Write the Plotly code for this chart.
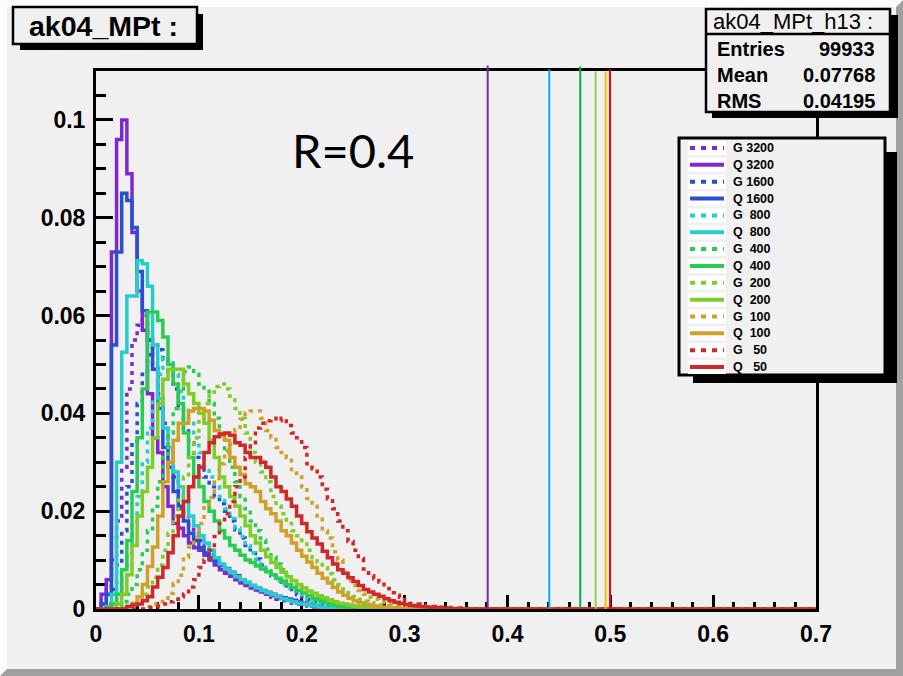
import numpy as np
import plotly.graph_objects as go

# ---------------- data ----------------
BIN_W = 0.005
N_BINS = 140

labels = ["G\u00a03200", "Q\u00a03200", "G\u00a01600", "Q\u00a01600", "G\u00a0\u00a0800", "Q\u00a0\u00a0800",
          "G\u00a0\u00a0400", "Q\u00a0\u00a0400", "G\u00a0\u00a0200", "Q\u00a0\u00a0200", "G\u00a0\u00a0100",
          "Q\u00a0\u00a0100", "G\u00a0\u00a0\u00a050", "Q\u00a0\u00a0\u00a050"]

g3200 = [0, 0.001, 0.004, 0.010, 0.018, 0.029, 0.045, 0.055, 0.058, 0.060,
         0.055, 0.050, 0.044, 0.038, 0.033, 0.027, 0.021, 0.019, 0.017, 0.0155,
         0.014, 0.0125, 0.0112, 0.010, 0.009, 0.008, 0.0071, 0.0063, 0.0056, 0.005,
         0.0044, 0.0038, 0.0033, 0.0028, 0.0024, 0.002, 0.0017, 0.0014, 0.0012, 0.001,
         0.0008, 0.0006, 0.0004, 0.0003, 0.0002, 0.0001]
q3200 = [0, 0.003, 0.006, 0.073, 0.096, 0.100, 0.089, 0.077, 0.065, 0.057,
         0.044, 0.035, 0.032, 0.025, 0.021, 0.0175, 0.0165, 0.015, 0.0135, 0.0125,
         0.012, 0.011, 0.010, 0.009, 0.008, 0.0073, 0.0067, 0.006, 0.0053, 0.0048,
         0.0043, 0.0039, 0.0035, 0.003, 0.0027, 0.0024, 0.0022, 0.002, 0.0018, 0.0015,
         0.0012, 0.0009, 0.0006, 0.0004, 0.0002, 0.0001]
g1600 = [0, 0, 0.001, 0.004, 0.009, 0.016, 0.025, 0.034, 0.042, 0.048,
         0.052, 0.054, 0.053, 0.051, 0.048, 0.045, 0.041, 0.037, 0.034, 0.031,
         0.029, 0.027, 0.025, 0.023, 0.0215, 0.020, 0.018, 0.0162, 0.0145, 0.013,
         0.0115, 0.0102, 0.009, 0.0078, 0.0068, 0.0058, 0.005, 0.0042, 0.0035, 0.0029,
         0.0024, 0.0019, 0.0015, 0.0011, 0.0008, 0.0005, 0.0003, 0.0002, 0.0001]
q1600 = [0, 0.001, 0.003, 0.054, 0.073, 0.085, 0.0835, 0.078, 0.069, 0.061,
         0.055, 0.049, 0.041, 0.033, 0.029, 0.024, 0.0205, 0.018, 0.0155, 0.014,
         0.0125, 0.0115, 0.0105, 0.0097, 0.009, 0.0083, 0.0075, 0.0068, 0.006, 0.0054,
         0.0048, 0.0043, 0.0038, 0.0034, 0.003, 0.0026, 0.0023, 0.002, 0.0016, 0.0013,
         0.001, 0.0008, 0.0006, 0.0004, 0.0003, 0.0002, 0.0001]
g800 = [0, 0, 0, 0.001, 0.003, 0.0065, 0.011, 0.0175, 0.023, 0.030,
        0.037, 0.043, 0.048, 0.0515, 0.051, 0.048, 0.0445, 0.041, 0.038, 0.035,
        0.032, 0.029, 0.027, 0.025, 0.023, 0.0205, 0.0185, 0.0165, 0.0148, 0.013,
        0.0115, 0.0102, 0.009, 0.0078, 0.0068, 0.0058, 0.005, 0.0043, 0.0036, 0.003,
        0.0025, 0.002, 0.0016, 0.0012, 0.0009, 0.0006, 0.0004, 0.0003, 0.0002, 0.0001]
q800 = [0, 0, 0.0005, 0.003, 0.030, 0.0525, 0.064, 0.064, 0.0712, 0.0706,
        0.066, 0.054, 0.043, 0.037, 0.033, 0.028, 0.025, 0.022, 0.019, 0.017,
        0.015, 0.0135, 0.012, 0.0105, 0.0092, 0.0082, 0.0074, 0.0066, 0.006, 0.0054,
        0.0048, 0.0043, 0.0038, 0.0033, 0.0029, 0.0025, 0.0021, 0.0018, 0.0015, 0.0012,
        0.001, 0.0008, 0.0006, 0.0004, 0.0003, 0.0002, 0.0001]
g400 = [0, 0, 0, 0, 0.0005, 0.0015, 0.003, 0.005, 0.008, 0.012,
        0.016, 0.021, 0.026, 0.031, 0.036, 0.041, 0.045, 0.0485, 0.0495, 0.048,
        0.046, 0.0445, 0.042, 0.039, 0.0355, 0.032, 0.029, 0.026, 0.023, 0.0205,
        0.018, 0.016, 0.014, 0.0122, 0.0106, 0.0092, 0.008, 0.0069, 0.0059, 0.005,
        0.0042, 0.0036, 0.003, 0.0025, 0.002, 0.0016, 0.0013, 0.001, 0.0008, 0.0005,
        0.0004, 0.0003, 0.0002, 0.0001]
q400 = [0, 0, 0.0003, 0.001, 0.003, 0.008, 0.014, 0.024, 0.035, 0.045,
        0.0607, 0.0607, 0.059, 0.0556, 0.050, 0.046, 0.042, 0.036, 0.031, 0.027,
        0.025, 0.022, 0.020, 0.018, 0.016, 0.0145, 0.013, 0.012, 0.011, 0.010,
        0.0095, 0.0088, 0.0082, 0.0076, 0.007, 0.0063, 0.0057, 0.005, 0.0044, 0.0038,
        0.0033, 0.0027, 0.0022, 0.0018, 0.0014, 0.0011, 0.0008, 0.0006, 0.0004, 0.0003,
        0.0002, 0.0001]
g200 = [0, 0, 0, 0, 0, 0, 0.0005, 0.001, 0.0018, 0.003,
        0.0045, 0.0065, 0.009, 0.012, 0.0155, 0.019, 0.023, 0.027, 0.031, 0.035,
        0.039, 0.042, 0.0443, 0.0455, 0.046, 0.045, 0.0435, 0.041, 0.039, 0.036,
        0.032, 0.030, 0.028, 0.026, 0.023, 0.021, 0.0195, 0.0175, 0.016, 0.015,
        0.014, 0.012, 0.0105, 0.0095, 0.0085, 0.0072, 0.006, 0.005, 0.0041, 0.0033,
        0.0026, 0.002, 0.0016, 0.0013, 0.001, 0.0008, 0.0006, 0.0004, 0.0003, 0.0002,
        0.0001]
q200 = [0, 0, 0, 0, 0.001, 0.003, 0.007, 0.013, 0.019, 0.024,
        0.029, 0.035, 0.042, 0.047, 0.049, 0.049, 0.049, 0.046, 0.044, 0.042,
        0.040, 0.038, 0.0345, 0.031, 0.027, 0.025, 0.023, 0.021, 0.019, 0.017,
        0.015, 0.0135, 0.012, 0.0107, 0.0095, 0.0085, 0.0075, 0.0066, 0.0058, 0.005,
        0.0043, 0.0037, 0.0032, 0.0027, 0.0023, 0.0019, 0.0015, 0.0012, 0.001, 0.0008,
        0.0006, 0.0004, 0.0003, 0.0002, 0.0001]
g100 = [0, 0, 0, 0, 0, 0, 0, 0, 0, 0,
        0.0005, 0.001, 0.0015, 0.0022, 0.0032, 0.0052, 0.0069, 0.0106, 0.0126, 0.0147,
        0.0175, 0.0207, 0.0228, 0.0267, 0.0297, 0.0324, 0.0337, 0.0367, 0.0388, 0.040,
        0.0405, 0.0405, 0.039, 0.0365, 0.035, 0.033, 0.032, 0.031, 0.0285, 0.027,
        0.025, 0.0226, 0.021, 0.019, 0.016, 0.0145, 0.0117, 0.010, 0.0079, 0.0058,
        0.0048, 0.0038, 0.003, 0.0024, 0.002, 0.0016, 0.0014, 0.001, 0.0007, 0.0005,
        0.0004, 0.0003, 0.0002, 0.0001]
q100 = [0, 0, 0, 0, 0, 0, 0.0005, 0.0012, 0.0025, 0.005,
        0.0087, 0.0127, 0.019, 0.026, 0.030, 0.0345, 0.038, 0.038, 0.0405, 0.041,
        0.041, 0.0405, 0.0386, 0.0365, 0.0355, 0.0345, 0.031, 0.029, 0.0275, 0.0256,
        0.025, 0.024, 0.022, 0.0205, 0.0195, 0.018, 0.016, 0.015, 0.0135, 0.012,
        0.0108, 0.0096, 0.0085, 0.0073, 0.0063, 0.0053, 0.0044, 0.0035, 0.0028, 0.0022,
        0.0017, 0.0013, 0.001, 0.0008, 0.0006, 0.0004, 0.0003, 0.0002, 0.0002, 0.0001,
        0.0001]
g50 = [0, 0, 0, 0, 0, 0, 0, 0, 0, 0,
       0.0003, 0.0004, 0.0006, 0.001, 0.0015, 0.002, 0.0025, 0.003, 0.0045, 0.006,
       0.0085, 0.010, 0.012, 0.0148, 0.0175, 0.0195, 0.022, 0.025, 0.027, 0.031,
       0.034, 0.037, 0.038, 0.0385, 0.039, 0.0385, 0.039, 0.0375, 0.036, 0.035,
       0.033, 0.0297, 0.0287, 0.027, 0.0245, 0.0225, 0.0205, 0.018, 0.016, 0.0138,
       0.012, 0.0103, 0.0082, 0.0068, 0.0062, 0.0055, 0.0042, 0.0033, 0.0028, 0.0024,
       0.0017, 0.0012, 0.001, 0.0008, 0.0006, 0.0005, 0.0004, 0.0003, 0.0003, 0.0002,
       0.0002, 0.0001, 0.0001]
q50 = [0, 0, 0, 0, 0, 0, 0.0005, 0.0008, 0.001, 0.0017,
       0.0025, 0.0045, 0.0065, 0.0085, 0.0115, 0.015, 0.019, 0.022, 0.025, 0.027,
       0.029, 0.032, 0.034, 0.0352, 0.0358, 0.036, 0.0355, 0.034, 0.0335, 0.032,
       0.031, 0.031, 0.030, 0.029, 0.027, 0.025, 0.024, 0.0225, 0.021, 0.019,
       0.0175, 0.0158, 0.0145, 0.0133, 0.0118, 0.0105, 0.0092, 0.008, 0.0073, 0.0064,
       0.0056, 0.0048, 0.004, 0.0035, 0.003, 0.0026, 0.0021, 0.0017, 0.0014, 0.0011,
       0.0009, 0.0007, 0.0006, 0.0005, 0.0004, 0.0003, 0.0003, 0.0002, 0.0002, 0.0001]

series_values = [g3200, q3200, g1600, q1600, g800, q800, g400, q400,
                 g200, q200, g100, q100, g50, q50]

cut_values = [0.3808, 0.4407, 0.4708, 0.4858, 0.4955, 0.4997]
cut_tops = [0.1111, 0.1103, 0.1109, 0.1099, 0.1099, 0.1103]

x_tickvals = [0, 0.1, 0.2, 0.3, 0.4, 0.5, 0.6, 0.7]
x_ticktext = ["0", "0.1", "0.2", "0.3", "0.4", "0.5", "0.6", "0.7"]
y_tickvals = [0, 0.02, 0.04, 0.06, 0.08, 0.1]
y_ticktext = ["0", "0.02", "0.04", "0.06", "0.08", "0.1"]

canvas_title = "ak04_MPt :"
stats_title = "ak04_MPt_h13 :"
stats_labels = ["Entries", "Mean", "RMS"]
stats_values = ["99933", "0.07768", "0.04195"]
note_text = "R=0.4"

# ---------------- styles ----------------
pair_colors = ["#8028d0", "#2850d0", "#28cccc", "#28cc50", "#80cc28", "#d0a028", "#d02828"]
colors = [c for c in pair_colors for _ in range(2)]
dotted = [True, False] * 7
cut_colors = ["#7030a0", "#00b0f0", "#00b050", "#92d050", "#ffc000", "#f00000"]

W, H = 903, 676
L, R, T, B = 96, 87, 71, 67
PW, PH = W - L - R, H - T - B
BG = "#f0f0f0"
FONT = "Liberation Sans, Arial, sans-serif"


def px(x):
    return (x - L) / PW


def py(y):
    return (H - B - y) / PH


fig = go.Figure()

edges = np.arange(N_BINS + 1) * BIN_W
for vals, col, dot in zip(series_values, colors, dotted):
    y = np.zeros(N_BINS)
    y[:len(vals)] = vals
    yy = np.append(y, y[-1])
    fig.add_trace(go.Scatter(
        x=edges, y=yy, mode="lines",
        line=dict(shape="hv", color=col, width=3.5, dash="4px,5px" if dot else "solid"),
        showlegend=False, hoverinfo="skip"))

shapes = []


def rect(x0, y0, x1, y1, fill, lw=0, lc="black", layer="above"):
    shapes.append(dict(type="rect", xref="paper", yref="paper",
                       x0=px(x0), x1=px(x1), y0=py(y1), y1=py(y0),
                       fillcolor=fill, line=dict(width=lw, color=lc), layer=layer))


def pline(x0, y0, x1, y1, color, width, dash="solid", layer="above"):
    shapes.append(dict(type="line", xref="paper", yref="paper",
                       x0=px(x0), x1=px(x1), y0=py(y0), y1=py(y1),
                       line=dict(color=color, width=width, dash=dash), layer=layer))


def ppath(points, fill):
    d = "M " + " L ".join(f"{px(a)},{py(b)}" for a, b in points) + " Z"
    shapes.append(dict(type="path", xref="paper", yref="paper", path=d,
                       fillcolor=fill, line=dict(width=0), layer="below"))


# canvas bevel
ppath([(0, 0), (W, 0), (W - 7, 7), (7, 7), (7, H - 7), (0, H)], "#fcfcfc")
ppath([(W, 0), (W, H), (0, H), (7, H - 7), (W - 7, H - 7), (W - 7, 7)], "#a0a0a0")

# cut lines (overlay)
for xv, top, col in zip(cut_values, cut_tops, cut_colors):
    shapes.append(dict(type="line", xref="x", yref="paper", x0=xv, x1=xv,
                       y0=0, y1=top / 0.11, line=dict(color=col, width=2), layer="above"))

# title box
rect(20, 14, 203, 50, "black")
rect(13, 7, 197, 44, BG, 2.5)

# stats box
rect(712, 15, 898, 118, "black")
rect(706, 9, 890, 112, BG, 2.5)
pline(706, 34, 890, 34, "black", 2.5)

# legend box
rect(693, 152, 897, 383, "black")
rect(679, 138, 885, 375, BG, 3)

annotations = []
leg_y0, leg_dy = 148, 16.85
for i, (lab, col, dot) in enumerate(zip(labels, colors, dotted)):
    yc = leg_y0 + i * leg_dy
    rect(688, yc - 7, 726, yc + 7, "white")
    pline(690, yc, 724, yc, col, 4, "5px,6px" if dot else "solid")
    annotations.append(dict(x=px(731), y=py(yc), xref="paper", yref="paper", text=lab,
                            showarrow=False, xanchor="left", yanchor="middle",
                            font=dict(family=FONT, size=12.5, color="black", weight="bold")))

annotations.append(dict(x=px(103), y=py(26), xref="paper", yref="paper", text=canvas_title,
                        showarrow=False, xanchor="center", yanchor="middle",
                        font=dict(family=FONT, size=28.5, color="black", weight="bold")))
annotations.append(dict(x=px(793), y=py(21), xref="paper", yref="paper", text=stats_title,
                        showarrow=False, xanchor="center", yanchor="middle",
                        font=dict(family=FONT, size=22, color="black")))
for i, (lab, val) in enumerate(zip(stats_labels, stats_values)):
    yc = 49 + i * 26
    annotations.append(dict(x=px(715), y=py(yc), xref="paper", yref="paper", text=lab,
                            showarrow=False, xanchor="left", yanchor="middle",
                            font=dict(family=FONT, size=20, color="black", weight="bold")))
    annotations.append(dict(x=px(877), y=py(yc), xref="paper", yref="paper", text=val,
                            showarrow=False, xanchor="right", yanchor="middle",
                            font=dict(family=FONT, size=20, color="black", weight="bold")))
annotations.append(dict(x=px(353), y=py(150), xref="paper", yref="paper", text=note_text,
                        showarrow=False, xanchor="center", yanchor="middle",
                        font=dict(family="Lato, Open Sans, sans-serif", size=47, color="black")))

tickfont = dict(family=FONT, size=23, color="black", weight="bold")
fig.update_xaxes(range=[0, 0.7], tickmode="array", tickvals=x_tickvals, ticktext=x_ticktext,
                 ticks="inside", ticklen=14, tickwidth=3, tickcolor="black",
                 showline=True, linewidth=3, linecolor="black", mirror=True,
                 showgrid=False, zeroline=False, layer="below traces", tickfont=tickfont,
                 minor=dict(tickmode="linear", tick0=0, dtick=0.02, ticks="inside", ticklen=7,
                            tickwidth=3, tickcolor="black", showgrid=False),
                 ticklabelstandoff=2)
fig.update_yaxes(range=[0, 0.11], tickmode="array", tickvals=y_tickvals, ticktext=y_ticktext,
                 ticks="inside", ticklen=17, tickwidth=3, tickcolor="black",
                 showline=True, linewidth=3, linecolor="black", mirror=True,
                 showgrid=False, zeroline=False, layer="below traces", tickfont=tickfont,
                 minor=dict(tickmode="linear", tick0=0, dtick=0.005, ticks="inside", ticklen=10,
                            tickwidth=3, tickcolor="black", showgrid=False),
                 ticklabelstandoff=3)

fig.update_layout(width=W, height=H, autosize=False,
                  margin=dict(l=L, r=R, t=T, b=B, pad=0),
                  paper_bgcolor=BG, plot_bgcolor=BG,
                  shapes=shapes, annotations=annotations, showlegend=False)

fig.write_html("out.html")
